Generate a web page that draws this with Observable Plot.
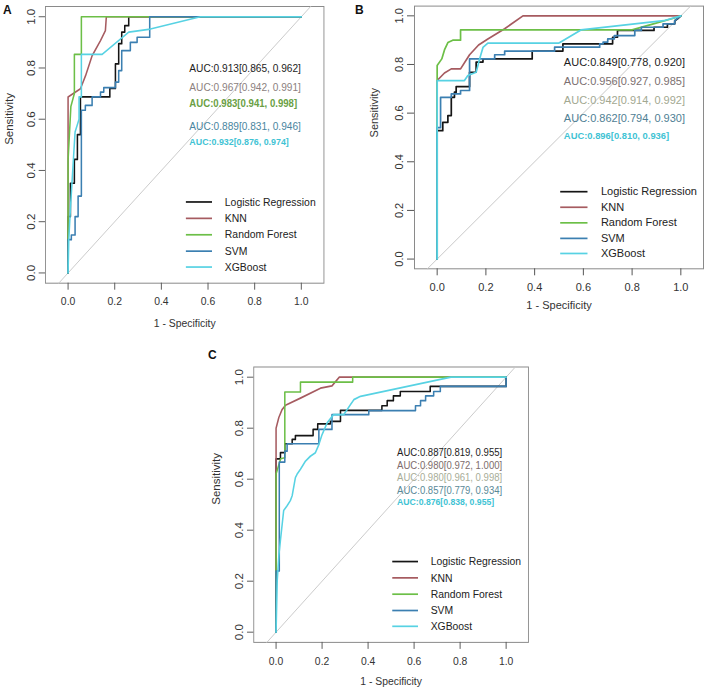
<!DOCTYPE html>
<html>
<head>
<meta charset="utf-8">
<script src="https://cdn.jsdelivr.net/npm/d3@7"></script>
<script src="https://cdn.jsdelivr.net/npm/@observablehq/plot@0.6"></script>
<style>
  body { margin: 0; background: #fff; }
  #fig { position: relative; width: 708px; height: 694px; overflow: hidden;
         font-family: "Liberation Sans", Arial, sans-serif; }
  .panel { position: absolute; transform-origin: 0 0; }
  .tag { position: absolute; font-weight: bold; font-size: 12px; line-height: 12px; color: #111; }
</style>
</head>
<body>
<div id="fig"></div>
<script>
// Models compared in every panel, in drawing order
const MODELS = ["Logistic Regression", "KNN", "Random Forest", "SVM", "XGBoost"];
const MODEL_COLORS = ["#151515", "#a65b60", "#6cbf47", "#3b7fb1", "#57d2e3"];
const TICKS = [0, 0.2, 0.4, 0.6, 0.8, 1.0];

// ROC curves: [1 - specificity, sensitivity]
// Panel A
const rocA_LR = [[0,0],[0,0.22],[0.01,0.22],[0.01,0.35],[0.027,0.35],[0.027,0.443],[0.04,0.443],[0.04,0.54],[0.053,0.54],[0.053,0.687],[0.179,0.687],[0.179,0.72],[0.203,0.72],[0.203,0.816],[0.217,0.816],[0.217,0.895],[0.23,0.895],[0.23,0.94],[0.243,0.94],[0.243,0.965],[0.26,0.965],[0.26,1],[1,1]];
const rocA_KNN = [[0,0],[0,0.43],[0,0.687],[0.053,0.719],[0.075,0.77],[0.103,0.848],[0.139,0.907],[0.16,0.946],[0.164,1],[1,1]];
const rocA_RF = [[0,0],[0,0.44],[0.012,0.65],[0.027,0.7],[0.027,0.853],[0.057,0.853],[0.057,1],[1,1]];
const rocA_SVM = [[0,0],[0,0.13],[0.014,0.13],[0.014,0.148],[0.03,0.148],[0.03,0.22],[0.043,0.22],[0.043,0.3],[0.057,0.3],[0.057,0.635],[0.074,0.635],[0.074,0.654],[0.103,0.654],[0.103,0.687],[0.139,0.687],[0.139,0.706],[0.153,0.706],[0.153,0.723],[0.203,0.723],[0.203,0.745],[0.217,0.745],[0.217,0.79],[0.23,0.79],[0.23,0.868],[0.267,0.868],[0.267,0.9],[0.296,0.9],[0.296,0.92],[0.35,0.92],[0.35,1],[1,1]];
const rocA_XGB = [[0,0],[0.003,0.13],[0.01,0.25],[0.02,0.4],[0.03,0.55],[0.047,0.6],[0.047,0.687],[0.057,0.687],[0.057,0.853],[0.146,0.853],[0.26,0.94],[0.353,0.952],[0.567,1],[1,1]];

// Panel B
const rocB_LR = [[0,0],[0,0.528],[0.023,0.528],[0.023,0.562],[0.044,0.562],[0.044,0.59],[0.058,0.59],[0.058,0.665],[0.071,0.665],[0.071,0.686],[0.078,0.686],[0.078,0.709],[0.133,0.709],[0.133,0.768],[0.16,0.768],[0.16,0.81],[0.188,0.81],[0.188,0.823],[0.39,0.823],[0.39,0.855],[0.516,0.855],[0.516,0.885],[0.72,0.885],[0.72,0.912],[0.74,0.912],[0.74,0.94],[0.89,0.94],[0.89,0.953],[0.945,0.953],[0.945,0.967],[0.975,0.967],[0.975,0.98],[0.99,0.99],[1,1]];
const rocB_KNN = [[0,0],[0,0.734],[0.03,0.765],[0.058,0.782],[0.096,0.782],[0.133,0.84],[0.17,0.88],[0.208,0.905],[0.277,0.947],[0.352,1],[1,1]];
const rocB_RF = [[0,0],[0,0.796],[0.019,0.823],[0.03,0.86],[0.044,0.89],[0.064,0.9],[0.096,0.9],[0.096,0.942],[0.8,0.942],[0.88,0.965],[0.97,0.99],[1,1]];
const rocB_SVM = [[0,0],[0,0.54],[0.014,0.54],[0.014,0.665],[0.058,0.665],[0.058,0.679],[0.096,0.679],[0.096,0.693],[0.133,0.693],[0.133,0.823],[0.236,0.823],[0.236,0.84],[0.277,0.84],[0.277,0.855],[0.482,0.855],[0.482,0.871],[0.667,0.871],[0.667,0.885],[0.681,0.885],[0.681,0.892],[0.7,0.892],[0.7,0.905],[0.727,0.905],[0.727,0.919],[0.811,0.919],[0.811,0.94],[0.838,0.94],[0.838,0.953],[0.927,0.953],[0.927,0.967],[0.975,0.967],[0.975,0.98],[1,1]];
const rocB_XGB = [[0,0],[0,0.734],[0.112,0.734],[0.126,0.755],[0.16,0.768],[0.174,0.822],[0.188,0.87],[0.208,0.888],[0.5,0.888],[0.59,0.942],[0.93,0.98],[1,1]];

// Panel C
const rocC_LR = [[0,0],[0,0.68],[0.019,0.68],[0.019,0.704],[0.038,0.704],[0.038,0.739],[0.07,0.739],[0.07,0.756],[0.084,0.756],[0.084,0.771],[0.161,0.771],[0.161,0.795],[0.181,0.795],[0.181,0.817],[0.236,0.817],[0.236,0.827],[0.28,0.827],[0.28,0.87],[0.46,0.87],[0.46,0.888],[0.483,0.888],[0.483,0.908],[0.51,0.908],[0.51,0.927],[0.54,0.927],[0.54,0.944],[0.67,0.944],[0.67,0.964],[1,0.964],[1,1]];
const rocC_KNN = [[0,0],[0,0.8],[0.012,0.842],[0.026,0.873],[0.041,0.89],[0.106,0.918],[0.193,0.957],[0.243,0.966],[0.275,1],[1,1]];
const rocC_RF = [[0,0],[0,0.62],[0.02,0.68],[0.038,0.684],[0.038,0.942],[0.106,0.942],[0.106,0.981],[0.333,0.981],[0.333,1],[1,1]];
const rocC_SVM = [[0,0],[0,0.24],[0.014,0.24],[0.014,0.667],[0.038,0.667],[0.038,0.71],[0.048,0.71],[0.048,0.739],[0.186,0.739],[0.186,0.795],[0.243,0.795],[0.243,0.853],[0.403,0.853],[0.403,0.869],[0.606,0.869],[0.606,0.888],[0.628,0.888],[0.628,0.908],[0.65,0.908],[0.65,0.927],[0.685,0.927],[0.685,0.944],[0.714,0.944],[0.714,0.964],[1,0.964],[1,1]];
const rocC_XGB = [[0,0],[0.005,0.2],[0.012,0.3],[0.019,0.36],[0.033,0.477],[0.048,0.496],[0.062,0.516],[0.07,0.535],[0.084,0.606],[0.091,0.619],[0.106,0.639],[0.128,0.671],[0.149,0.69],[0.171,0.704],[0.186,0.736],[0.2,0.775],[0.222,0.821],[0.25,0.853],[0.294,0.853],[0.323,0.892],[0.338,0.912],[0.367,0.925],[0.76,1],[1,1]];

// AUC with 95% CI, one line per model
const aucA = ["AUC:0.913[0.865, 0.962]", "AUC:0.967[0.942, 0.991]", "AUC:0.983[0.941, 0.998]", "AUC:0.889[0.831, 0.946]", "AUC:0.932[0.876, 0.974]"];
const aucB = ["AUC:0.849[0.778, 0.920]", "AUC:0.956[0.927, 0.985]", "AUC:0.942[0.914, 0.992]", "AUC:0.862[0.794, 0.930]", "AUC:0.896[0.810, 0.936]"];
const aucC = ["AUC:0.887[0.819, 0.955]", "AUC:0.980[0.972, 1.000]", "AUC:0.980[0.961, 0.998]", "AUC:0.857[0.779, 0.934]", "AUC:0.876[0.838, 0.955]"];

// ---- layout & styling ----
const Y_DOMAIN = [-0.04, 1.04];
const LEGEND_Y = [0.277, 0.213, 0.149, 0.085, 0.023];
const LEGEND_X = [0.507, 0.619];
const LEGEND_TEXT_X = 0.672;
const FONT = '"Liberation Sans", Arial, sans-serif';

function rocPanel(cfg) {
  const {curves, auc, aucX, aucY, aucColors, aucWeights, aucSizes, xDomain,
         width, height, margin, fontSize, xLabelDy, yLabelDx} = cfg;
  const diag = [[Y_DOMAIN[0], Y_DOMAIN[0]], [Y_DOMAIN[1], Y_DOMAIN[1]]];
  const aucRows = auc.map((t, i) => ({t, y: aucY[i], c: aucColors[i], w: aucWeights[i], s: aucSizes[i]}));
  const legendRows = MODELS.map((m, i) => ({m, y: LEGEND_Y[i], c: MODEL_COLORS[i]}));
  const marks = [
    Plot.frame({stroke: "#8a8a8a", strokeWidth: 1}),
    Plot.line(diag, {x: d => d[0], y: d => d[1], stroke: "#c8c8c8", strokeWidth: 1}),
    ...curves.map((c, i) => Plot.line(c, {x: d => d[0], y: d => d[1], stroke: MODEL_COLORS[i], strokeWidth: 1.7})),
    Plot.axisX(TICKS, {tickSize: 7, tickPadding: 7, tickFormat: d => d.toFixed(1), label: null, color: "#555", fill: "#333", fontSize}),
    Plot.axisY(TICKS, {tickSize: 7, tickPadding: 5, tickRotate: -90, tickFormat: d => d.toFixed(1), label: null, color: "#555", fill: "#333", fontSize}),
    Plot.text(["1 - Specificity"], {frameAnchor: "bottom", dy: xLabelDy, fill: "#333", fontSize}),
    Plot.text(["Sensitivity"], {frameAnchor: "left", dx: yLabelDx, rotate: -90, fill: "#333", fontSize}),
    ...aucRows.map(r => Plot.text([r], {x: aucX, y: "y", text: "t", fill: r.c, fontWeight: r.w, fontSize: r.s, textAnchor: "start"})),
    Plot.ruleY(legendRows, {y: "y", x1: LEGEND_X[0], x2: LEGEND_X[1], stroke: "c", strokeWidth: 1.7}),
    Plot.text(legendRows, {x: LEGEND_TEXT_X, y: "y", text: "m", fill: "#222", textAnchor: "start", fontSize})
  ];
  return Plot.plot({
    width, height,
    marginLeft: margin[0], marginRight: margin[1], marginTop: margin[2], marginBottom: margin[3],
    x: {domain: xDomain},
    y: {domain: Y_DOMAIN},
    style: {fontFamily: FONT, fontSize: fontSize + "px", background: "transparent", overflow: "visible"},
    marks
  });
}

const fig = document.getElementById("fig");
function place(svg, left, top, sx, tag) {
  const wrap = document.createElement("div");
  wrap.className = "panel";
  wrap.style.left = left + "px";
  wrap.style.top = top + "px";
  wrap.style.transform = `scaleX(${sx})`;
  wrap.appendChild(svg);
  fig.appendChild(wrap);
  const t = document.createElement("div");
  t.className = "tag";
  t.textContent = tag.text;
  t.style.left = tag.left + "px";
  t.style.top = tag.top + "px";
  fig.appendChild(t);
}

const sA = 0.9056, sC = 0.902;

place(rocPanel({
  curves: [rocA_LR, rocA_KNN, rocA_RF, rocA_SVM, rocA_XGB],
  auc: aucA, aucX: 0.52, aucY: [0.798, 0.723, 0.661, 0.573, 0.511],
  aucColors: ["#1c1c1c", "#8c7f80", "#6a9f44", "#4a86a0", "#3fc3d4"],
  aucWeights: ["normal", "normal", "bold", "normal", "bold"],
  aucSizes: [11.2, 11.2, 10.6, 11.2, 9.8],
  xDomain: [-0.097, 1.097],
  width: 354 / sA, height: 335,
  margin: [45 / sA, 30.5 / sA, 6, 52.3],
  fontSize: 11.5, xLabelDy: 44, yLabelDx: -36 / sA
}), 0, 0, sA, {text: "A", left: 3, top: 3.5});

place(rocPanel({
  curves: [rocB_LR, rocB_KNN, rocB_RF, rocB_SVM, rocB_XGB],
  auc: aucB, aucX: 0.52, aucY: [0.809, 0.730, 0.654, 0.579, 0.507],
  aucColors: ["#1c1c1c", "#7b6f70", "#a2a891", "#4f8094", "#3fc3d4"],
  aucWeights: ["normal", "normal", "normal", "normal", "bold"],
  aucSizes: [11, 11, 11, 11, 9.4],
  xDomain: [-0.093, 1.093],
  width: 354, height: 335,
  margin: [60, 5, 5.6, 66.7],
  fontSize: 11, xLabelDy: 40, yLabelDx: -40
}), 354, 0, 1, {text: "B", left: 355, top: 3.5});

place(rocPanel({
  curves: [rocC_LR, rocC_KNN, rocC_RF, rocC_SVM, rocC_XGB],
  auc: aucC, aucX: 0.526, aucY: [0.704, 0.655, 0.606, 0.557, 0.510],
  aucColors: ["#1c1c1c", "#7d6c6c", "#a8ad97", "#5a8a98", "#3fc3d4"],
  aucWeights: ["normal", "normal", "normal", "normal", "bold"],
  aucSizes: [10.6, 10.6, 10.6, 10.6, 9.6],
  xDomain: [-0.097, 1.097],
  width: 360 / sC, height: 354,
  margin: [73.3 / sC, 12 / sC, 26.5, 52.1],
  fontSize: 11.5, xLabelDy: 43, yLabelDx: -36.6 / sC
}), 180, 340, sC, {text: "C", left: 208, top: 348.5});
</script>
</body>
</html>
